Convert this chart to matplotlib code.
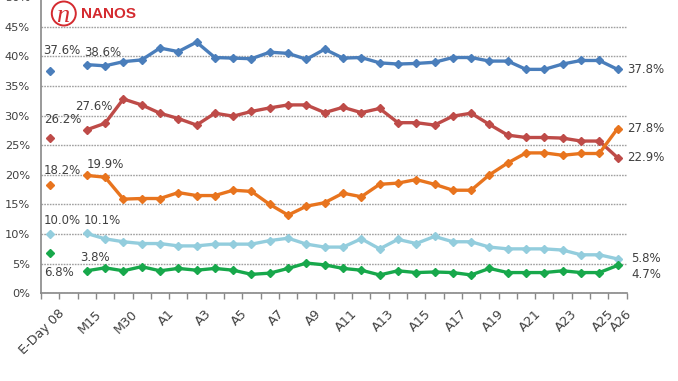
import numpy as np
import matplotlib
matplotlib.use("Agg")
import matplotlib.pyplot as plt
from matplotlib.patches import Ellipse
import matplotlib.transforms as mtransforms

nan = np.nan

categories = ["E-Day 08", "", "M15", "M22", "M30", "M31",
              "A1", "A2", "A3", "A4", "A5", "A6", "A7", "A8", "A9", "A10",
              "A11", "A12", "A13", "A14", "A15", "A16", "A17", "A18", "A19",
              "A20", "A21", "A22", "A23", "A24", "A25", "A26"]
shown_labels = ["E-Day 08", "M15", "M30", "A1", "A3", "A5", "A7", "A9", "A11",
                "A13", "A15", "A17", "A19", "A21", "A23", "A25", "A26"]

cpc = [37.6, nan, 38.6, 38.4, 39.1, 39.4, 41.4, 40.8, 42.4, 39.8, 39.7, 39.6,
       40.7, 40.5, 39.5, 41.2, 39.7, 39.8, 38.9, 38.7, 38.8, 39.0, 39.8, 39.8,
       39.2, 39.2, 37.8, 37.8, 38.7, 39.3, 39.3, 37.8]
lpc = [26.2, nan, 27.6, 28.7, 32.8, 31.8, 30.4, 29.5, 28.4, 30.4, 29.9, 30.7,
       31.3, 31.8, 31.8, 30.5, 31.4, 30.5, 31.2, 28.8, 28.8, 28.4, 29.9, 30.4,
       28.5, 26.7, 26.3, 26.3, 26.2, 25.7, 25.7, 22.9]
ndp = [18.2, nan, 19.9, 19.6, 15.9, 16.0, 16.0, 17.0, 16.5, 16.5, 17.4, 17.2,
       15.0, 13.2, 14.7, 15.3, 16.9, 16.3, 18.4, 18.6, 19.2, 18.4, 17.4, 17.4,
       20.0, 22.0, 23.7, 23.7, 23.3, 23.6, 23.6, 27.8]
bq = [10.0, nan, 10.1, 9.2, 8.7, 8.4, 8.4, 8.0, 8.0, 8.3, 8.3, 8.3,
      8.9, 9.3, 8.3, 7.8, 7.8, 9.2, 7.5, 9.1, 8.4, 9.6, 8.7, 8.7,
      7.8, 7.5, 7.5, 7.5, 7.3, 6.5, 6.5, 5.8]
green = [6.8, nan, 3.8, 4.3, 3.8, 4.5, 3.8, 4.2, 3.9, 4.2, 3.9, 3.2,
         3.4, 4.2, 5.1, 4.8, 4.2, 3.9, 3.1, 3.8, 3.5, 3.6, 3.5, 3.1,
         4.2, 3.5, 3.5, 3.5, 3.8, 3.5, 3.5, 4.7]

series = [
    (cpc, "#4a7ebb"),
    (lpc, "#be4b48"),
    (ndp, "#e8741e"),
    (bq, "#93cddd"),
    (green, "#17a84b"),
]

# label offsets (pixels): (E-Day dx, dy), (M15 dx, dy), (end dx, dy)
label_offsets = [
    ((-7, 20), (-3, 12), (10, 0)),
    ((-6, 19), (-12, 23), (10, 0)),
    ((-6, 15), (0, 11), (10, 0)),
    ((-6, 14), (-3, 13), (14, 0)),
    ((-6, -19), (-7, 13), (14, -9)),
]

text_color = "#404040"
plt.rcParams['font.family'] = ['DejaVu Sans']

fig = plt.figure(figsize=(6.78, 3.81), dpi=100)
ax = fig.add_axes([41 / 678, 1 - 293.3 / 381, (626.7 - 41) / 678, (293.3 + 2.9) / 381])

x = np.arange(len(categories))
for (vals, col), offs in zip(series, label_offsets):
    ax.plot(x, vals, color=col, lw=2.4, marker='D', markersize=4.5,
            markeredgecolor=col, zorder=3, clip_on=False)
    pts = [(0, vals[0]), (2, vals[2]), (len(vals) - 1, vals[-1])]
    for (xi, v), (dx, dy) in zip(pts, offs):
        ax.annotate(f"{v:.1f}%", xy=(xi, v), xytext=(dx, dy),
                    textcoords='offset pixels', ha='left', va='center',
                    fontsize=8.5, color=text_color, zorder=4)

ax.set_xlim(-0.5, len(categories) - 0.5)
ax.set_ylim(0, 50)
ax.set_yticks(np.arange(0, 51, 5))
ax.set_yticklabels([f"{v}%" for v in range(0, 51, 5)], fontsize=8.2, color=text_color)
ax.yaxis.grid(True, color="#a0a0a0", linestyle=(0, (1.2, 0.8)), linewidth=1.0)
ax.set_axisbelow(True)

label_pos = [categories.index(l) for l in shown_labels]
ax.set_xticks(label_pos)
ax.set_xticklabels(shown_labels, fontsize=9.2, color=text_color,
                   rotation=45, ha='right', rotation_mode='anchor')
ax.set_xticks(np.arange(-0.5, len(categories)), minor=True)
ax.tick_params(axis='x', which='major', length=0, pad=10)
ax.tick_params(axis='x', which='minor', length=4, width=1, color="#888888", direction='out')
ax.tick_params(axis='y', length=0, pad=8)

offset = mtransforms.ScaledTranslation(8 / 100, 0, fig.dpi_scale_trans)
for lab in ax.get_xticklabels():
    lab.set_transform(lab.get_transform() + offset)

for s in ['top', 'right']:
    ax.spines[s].set_visible(False)
for s in ['left', 'bottom']:
    ax.spines[s].set_color("#888888")
    ax.spines[s].set_linewidth(1.2)

# NANOS logo
logo_red = "#d42a2f"
circ = Ellipse((63.8 / 678, 1 - 13.5 / 381), 24 / 678, 24 / 381, transform=fig.transFigure,
               facecolor='white', edgecolor=logo_red, linewidth=1.4, zorder=5)
fig.patches.append(circ)
fig.text(63.0 / 678, 1 - 15.5 / 381, "n", ha='center', va='center',
         fontsize=19, color=logo_red, family='Liberation Serif', style='italic', zorder=6)
fig.text(81.5 / 678, 1 - 13.5 / 381, "NANOS", ha='left', va='center', fontsize=11,
         fontweight='bold', color=logo_red, family='Liberation Sans')

fig.savefig("out.png", dpi=100, facecolor='white')
